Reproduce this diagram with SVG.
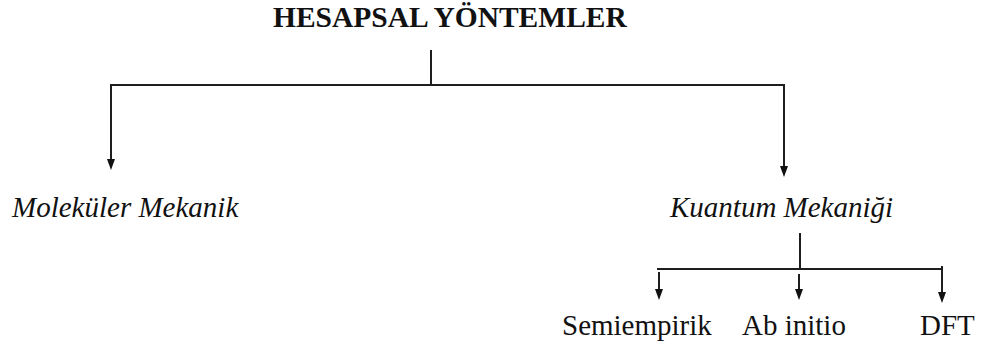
<svg xmlns="http://www.w3.org/2000/svg" width="986" height="347" viewBox="0 0 986 347">
  <style>
    text { font-family: 'Liberation Serif', 'Times New Roman', serif; font-size: 29px; fill: #111; }
    .title { font-weight: bold; font-size: 29.5px; }
    .it { font-style: italic; }
    .edge { stroke: #1e1e1e; stroke-width: 2; fill: none; }
    .head { fill: #111; }
  </style>
  <rect width="986" height="347" fill="#ffffff"/>

  <g id="connectors">
    <!-- root to first level -->
    <line class="edge" x1="431" y1="50" x2="431" y2="85"/>
    <line class="edge" x1="110" y1="85" x2="785" y2="85"/>
    <line class="edge" x1="111" y1="84" x2="111" y2="160"/>
    <polygon class="head" points="107,159 115,159 111,170"/>
    <line class="edge" x1="784" y1="84" x2="784" y2="167"/>
    <polygon class="head" points="780,166 788,166 784,177"/>
    <!-- quantum branch -->
    <line class="edge" x1="800" y1="233" x2="800" y2="269"/>
    <line class="edge" x1="657" y1="269" x2="943" y2="269"/>
    <line class="edge" x1="659" y1="272" x2="659" y2="290"/>
    <polygon class="head" points="655,289 663,289 659,300"/>
    <line class="edge" x1="799" y1="274" x2="799" y2="290"/>
    <polygon class="head" points="795,289 803,289 799,300"/>
    <line class="edge" x1="942" y1="266" x2="942" y2="293"/>
    <polygon class="head" points="938,292 946,292 942,303"/>
  </g>

  <g id="node-root">
    <text class="title" x="273" y="27">HESAPSAL YÖNTEMLER</text>
  </g>
  <g id="node-molecular">
    <text class="it" x="12" y="217">Moleküler Mekanik</text>
  </g>
  <g id="node-quantum">
    <text class="it" x="670" y="217">Kuantum Mekaniği</text>
  </g>
  <g id="node-semiempirical">
    <text x="562" y="335">Semiempirik</text>
  </g>
  <g id="node-abinitio">
    <text x="742" y="335">Ab initio</text>
  </g>
  <g id="node-dft">
    <text x="920" y="335">DFT</text>
  </g>
</svg>
